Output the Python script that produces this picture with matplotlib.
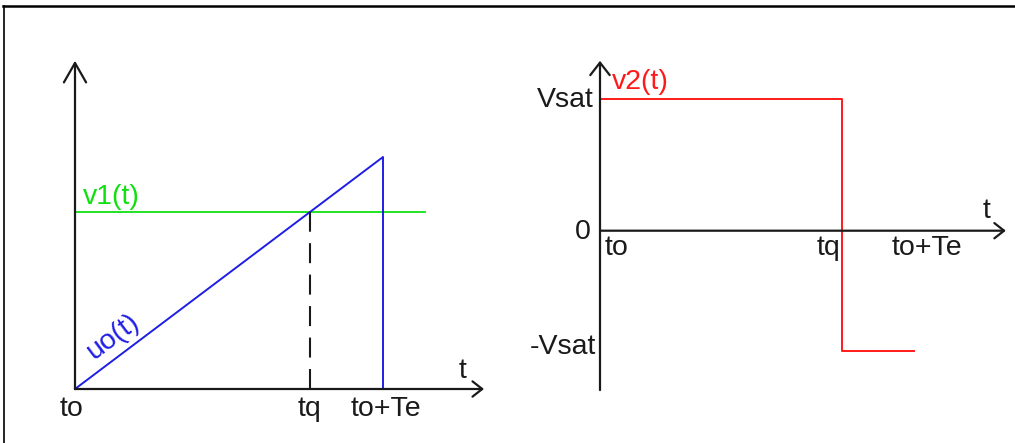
import matplotlib
matplotlib.use("Agg")
import matplotlib.pyplot as plt
from matplotlib.lines import Line2D

plt.rcParams["font.family"] = ["Liberation Sans", "DejaVu Sans"]
plt.rcParams["font.size"] = 20.5

# left diagram: ramp uo(t) compared with the level v1(t)
t0 = 0.0
tq = 0.763
te = 1.0
ramp_t = [t0, te, te]
ramp_v = [0.0, 1.0, 0.0]
v1_level = 0.763
v1_end = 1.136
left_axis_end = (1.328, 1.415)

# right diagram: comparator output v2(t)
tq2 = 0.77
te2 = 1.0
vsat = 1.0
vsat_neg = -0.91
v2_t = [t0, tq2, tq2, te2]
v2_v = [vsat, vsat, vsat_neg, vsat_neg]
right_axis_end = (1.293, 1.29, -1.21)

W, H = 1015, 443
fig = plt.figure(figsize=(W / 100, H / 100), dpi=100)


def place_axes(x0px, y0px, sx, sy, xlim, ylim):
    # axes placed so that data (0, 0) lands on pixel (x0px, y0px)
    left = x0px + sx * xlim[0]
    right = x0px + sx * xlim[1]
    top = y0px - sy * ylim[1]
    bottom = y0px - sy * ylim[0]
    ax = fig.add_axes([left / W, 1 - bottom / H, (right - left) / W, (bottom - top) / H])
    ax.set_xlim(*xlim)
    ax.set_ylim(*ylim)
    ax.axis("off")
    return ax


def arrow(ax, start, end, hl, hw):
    ax.annotate("", xy=end, xytext=start,
                arrowprops=dict(arrowstyle=f"->,head_length={hl},head_width={hw}",
                                lw=1.6, color="#1a1a1a", shrinkA=0, shrinkB=0,
                                mutation_scale=1))


def label(ax, x, y, s, dx, dy, color="#1a1a1a", **kw):
    ax.annotate(s, xy=(x, y), xytext=(dx, dy), textcoords="offset pixels",
                color=color, **kw)


blue = "#1e1ee6"
green = "#10e010"
red = "#ff1a1a"

# ---- left
ax1 = place_axes(75, 389, 308, 232, (-0.2, 1.4), (-0.2, 1.5))
arrow(ax1, (0, 0), (0, left_axis_end[1]), 14, 8)
arrow(ax1, (0, 0), (left_axis_end[0], 0), 7, 5.5)
ax1.plot([t0, v1_end], [v1_level, v1_level], color=green, lw=1.3)
ax1.plot(ramp_t, ramp_v, color=blue, lw=1.4)
ax1.plot([tq, tq], [0, v1_level], color="#1a1a1a", lw=1.5, dashes=(9.6, 5.5))

label(ax1, t0, 0, "to", -3, -7, ha="center", va="top")
label(ax1, tq, 0, "tq", -1, -7, ha="center", va="top")
label(ax1, te, 0, "to+Te", 3, -7, ha="center", va="top")
label(ax1, left_axis_end[0], 0, "t", -21, 5, ha="center", va="bottom")
label(ax1, t0, v1_level, "v1(t)", 8, 15, color=green, ha="left", va="center")
label(ax1, 0.123, 0.22, "uo(t)", 0, 1, color=blue, ha="center", va="center",
      rotation=37, rotation_mode="anchor")

# ---- right
ax2 = place_axes(600, 230.7, 313.9, 131.7, (-0.3, 1.32), (-1.45, 1.4))
arrow(ax2, (0, right_axis_end[2]), (0, right_axis_end[1]), 9, 7)
arrow(ax2, (0, 0), (right_axis_end[0], 0), 7, 5.5)
ax2.plot(v2_t, v2_v, color=red, lw=1.4)

label(ax2, 0, vsat, "v2(t)", 12, 17, color=red, ha="left", va="center")
label(ax2, 0, vsat, "Vsat", -6, -1, ha="right", va="center")
label(ax2, 0, 0, "0", -9, -1, ha="right", va="center")
label(ax2, 0, vsat_neg, "-Vsat", -4, 4, ha="right", va="center")
label(ax2, t0, 0, "to", 5, -4, ha="left", va="top")
label(ax2, tq2, 0, "tq", -1, -4, ha="right", va="top")
label(ax2, te2, 0, "to+Te", -22, -4, ha="left", va="top")
label(ax2, right_axis_end[0], 0, "t", -19, 7, ha="center", va="bottom")

# frame lines of the original picture
fig.add_artist(Line2D([3 / W, 1], [1 - 6 / H, 1 - 6 / H], color="black", lw=1.8))
fig.add_artist(Line2D([3.5 / W, 3.5 / W], [0, 1 - 6 / H], color="black", lw=1.2))

fig.savefig("out.png", dpi=100)
